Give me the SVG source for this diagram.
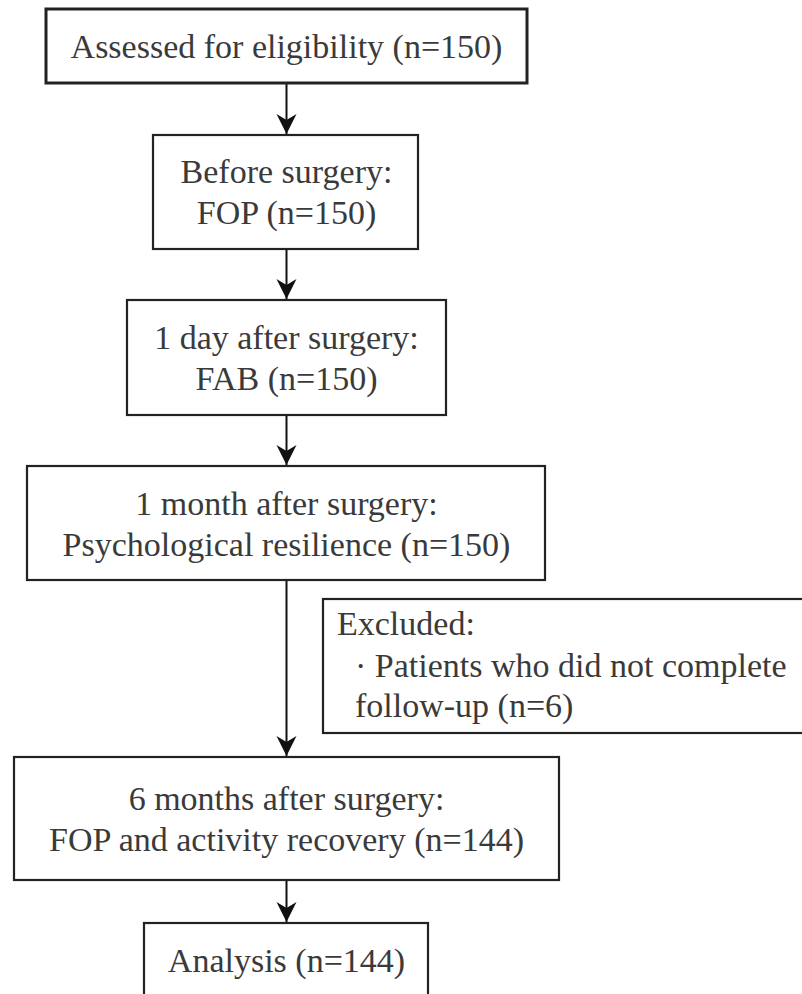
<svg xmlns="http://www.w3.org/2000/svg" width="802" height="994" viewBox="0 0 802 994">
<style>
.box{fill:#fff;stroke:#222;stroke-width:2.2}
.t{font-family:'Liberation Serif','Tinos','DejaVu Serif','Noto Serif',serif;font-size:34px;fill:#3a3a3a}
.c{text-anchor:middle}
.edge{fill:none;stroke:#111;stroke-width:2}
</style>
<defs>
<marker id="arr" markerUnits="userSpaceOnUse" markerWidth="22" markerHeight="22" refX="20" refY="10" orient="auto" viewBox="0 0 22 20">
<path d="M0,0 L20,10 L0,20 L6,10 Z" fill="#111"/>
</marker>
</defs>
<rect width="802" height="994" fill="#fff"/>
<g id="connectors">
<line class="edge" x1="286.5" y1="84" x2="286.5" y2="134" marker-end="url(#arr)"/>
<line class="edge" x1="286.5" y1="250" x2="286.5" y2="299" marker-end="url(#arr)"/>
<line class="edge" x1="286.5" y1="416" x2="286.5" y2="465" marker-end="url(#arr)"/>
<line class="edge" x1="286.5" y1="581" x2="286.5" y2="756" marker-end="url(#arr)"/>
<line class="edge" x1="286.5" y1="881" x2="286.5" y2="922" marker-end="url(#arr)"/>
</g>
<g id="n1">
<rect class="box" x="46" y="9" width="481" height="74" style="stroke-width:3"/>
<text class="t c" x="286.5" y="58">Assessed for eligibility (n=150)</text>
</g>
<g id="n2">
<rect class="box" x="153" y="135" width="265" height="114"/>
<text class="t c" x="286.5" y="183">Before surgery:</text>
<text class="t c" x="286.5" y="224"> FOP (n=150)</text>
</g>
<g id="n3">
<rect class="box" x="127" y="300" width="319" height="115"/>
<text class="t c" x="286.5" y="348.5">1 day after surgery:</text>
<text class="t c" x="286.5" y="390">FAB (n=150)</text>
</g>
<g id="n4">
<rect class="box" x="27" y="466" width="518" height="114"/>
<text class="t c" x="286.5" y="514.5">1 month after surgery:</text>
<text class="t c" x="286.5" y="555.5">Psychological resilience (n=150)</text>
</g>
<g id="n5">
<rect class="box" x="323" y="599" width="520" height="134"/>
<text class="t" x="337" y="635">Excluded:</text>
<text class="t" x="355" y="677">· Patients who did not complete</text>
<text class="t" x="355" y="717">follow-up (n=6)</text>
</g>
<g id="n6">
<rect class="box" x="14" y="757" width="545" height="123"/>
<text class="t c" x="286.5" y="809.5">6 months after surgery:</text>
<text class="t c" x="286.5" y="850.5">FOP and activity recovery (n=144)</text>
</g>
<g id="n7">
<rect class="box" x="144" y="923" width="284" height="90"/>
<text class="t c" x="286.5" y="972">Analysis (n=144)</text>
</g>
</svg>
